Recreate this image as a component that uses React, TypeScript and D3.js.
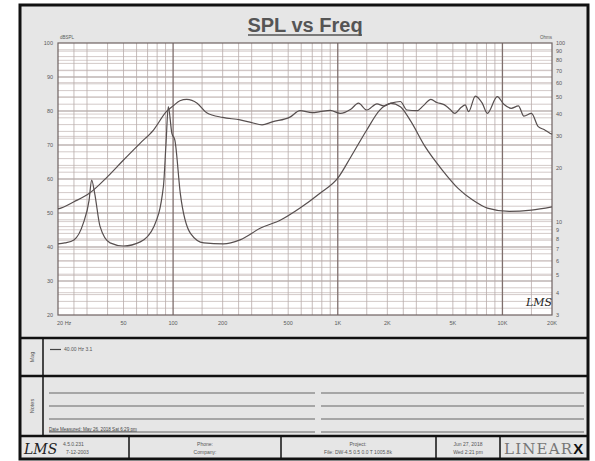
import { useEffect, useRef } from 'react';
import * as d3 from 'd3';

const WIDTH = 595;
const HEIGHT = 461;

// SPL response (left axis, dB)
const splFreq = [20, 21, 25, 31, 40, 50, 63, 76, 91, 100, 110, 121, 140, 160, 200, 255, 300, 347, 400, 512, 590, 700, 780, 900, 1035, 1200, 1335, 1500, 1730, 1900, 2100, 2400, 2630, 3030, 3300, 3680, 4000, 4450, 4800, 5140, 5600, 5940, 6230, 6850, 7540, 8100, 9300, 10200, 11300, 12500, 13500, 15000, 16500, 18000, 19500, 20000];
const splDb = [51.2, 51.5, 53.3, 55.8, 60.7, 65.6, 70.5, 74.4, 79.8, 81.5, 83, 83.4, 82.3, 79.5, 78.1, 77.4, 76.6, 75.9, 76.8, 78.2, 80.1, 79.5, 79.8, 80.2, 79.3, 80.5, 82.3, 80.3, 82.1, 81.5, 82.3, 82.8, 80.3, 80.1, 81.5, 83.4, 82.5, 81.8, 80.5, 79.3, 81, 81.8, 79.8, 84.4, 82.3, 79.3, 84.2, 82, 80.8, 81.5, 78.5, 79.3, 75.4, 74.5, 73.4, 73.2];

// impedance (right axis, ohms)
const impFreq = [20, 22, 25, 28.5, 30.9, 32, 33.4, 36, 41.4, 49.9, 63.2, 76.5, 87.3, 90.5, 93.5, 98.3, 102.5, 110.6, 127.5, 153.8, 202, 255, 340, 450, 590, 780, 1000, 1200, 1500, 1800, 2100, 2400, 2750, 3400, 4300, 5400, 6600, 8100, 11000, 15000, 20000];
const impOhm = [7.5, 7.6, 7.9, 9.8, 13.2, 17.1, 14.4, 9.4, 7.6, 7.3, 7.7, 9.4, 15.7, 27, 44, 31.2, 28.6, 14.4, 8.6, 7.6, 7.5, 7.9, 9.2, 10.2, 11.9, 14.4, 17.5, 23, 32.6, 42.1, 45.9, 44, 37, 26.2, 19.5, 15.3, 13.2, 11.9, 11.4, 11.6, 12.1];

const freqTicks = [20, 50, 100, 200, 500, 1000, 2000, 5000, 10000, 20000];
const freqLabels = ['20 Hz', '50', '100', '200', '500', '1K', '2K', '5K', '10K', '20K'];
const dbTicks = [20, 30, 40, 50, 60, 70, 80, 90, 100];
const ohmTicks = [3, 4, 5, 6, 7, 8, 9, 10, 20, 30, 40, 50, 60, 70, 80, 90, 100];

const FONT = '"Liberation Sans", Arial, sans-serif';

export default function App() {
  const svgRef = useRef<SVGSVGElement>(null);

  useEffect(() => {
    const svg = d3.select(svgRef.current);
    svg.selectAll('*').remove();

    const plot = { left: 58, right: 552, top: 43, bottom: 315 };
    const x = d3.scaleLog().domain([20, 20000]).range([plot.left, plot.right]);
    const yDb = d3.scaleLinear().domain([20, 100]).range([plot.bottom, plot.top]);
    const yOhm = d3.scaleLog().domain([3, 100]).range([plot.bottom, plot.top]);

    // frame background
    svg.append('rect').attr('x', 20).attr('y', 5).attr('width', 568).attr('height', 454).attr('fill', '#e6e6e6');
    svg.append('rect').attr('x', plot.left).attr('y', plot.top)
      .attr('width', plot.right - plot.left).attr('height', plot.bottom - plot.top).attr('fill', '#fff');

    const grid = svg.append('g');

    // vertical grid
    const vLines: { f: number; major: boolean }[] = [];
    [10, 100, 1000, 10000].forEach(d => {
      for (let m = 1; m <= 9; m++) {
        const f = m * d;
        if (f > 20 && f < 20000) vLines.push({ f, major: m === 1 });
      }
      [1.5, 2.5].forEach(m => {
        const f = m * d;
        if (f > 20 && f < 20000) vLines.push({ f, major: false });
      });
    });

    // horizontal grid (ohms + dB)
    grid.selectAll('line.o').data(ohmTicks.slice(1, -1)).enter().append('line')
      .attr('x1', plot.left).attr('x2', plot.right)
      .attr('y1', d => yOhm(d)).attr('y2', d => yOhm(d))
      .attr('stroke', '#cdc2c0').attr('stroke-width', 0.8);
    grid.selectAll('line.h').data(d3.range(22, 100, 2)).enter().append('line')
      .attr('x1', plot.left).attr('x2', plot.right)
      .attr('y1', d => yDb(d)).attr('y2', d => yDb(d))
      .attr('stroke', d => (d % 10 === 0 ? '#9e8f8e' : '#c7bcba'))
      .attr('stroke-width', d => (d % 10 === 0 ? 1.1 : 0.8));
    grid.selectAll('line.v').data(vLines).enter().append('line')
      .attr('x1', d => x(d.f)).attr('x2', d => x(d.f))
      .attr('y1', plot.top).attr('y2', plot.bottom)
      .attr('stroke', d => (d.major ? '#7f6f6d' : '#b8aba9'))
      .attr('stroke-width', d => (d.major ? 1.3 : 0.8));

    svg.append('rect').attr('x', plot.left).attr('y', plot.top)
      .attr('width', plot.right - plot.left).attr('height', plot.bottom - plot.top)
      .attr('fill', 'none').attr('stroke', '#6e6261').attr('stroke-width', 1.2);

    // curves
    const splLine = d3.line<number>().x((d, i) => x(splFreq[i])).y(d => yDb(d)).curve(d3.curveMonotoneX);
    const impLine = d3.line<number>().x((d, i) => x(impFreq[i])).y(d => yOhm(d)).curve(d3.curveMonotoneX);
    svg.append('path').attr('d', impLine(impOhm)).attr('fill', 'none').attr('stroke', '#574f4f').attr('stroke-width', 1.2);
    svg.append('path').attr('d', splLine(splDb)).attr('fill', 'none').attr('stroke', '#574f4f').attr('stroke-width', 1.2);

    // axis labels
    const lab = svg.append('g').attr('font-family', FONT).attr('font-size', 5.5).attr('fill', '#5a5a5a');
    lab.selectAll('text.db').data(dbTicks).enter().append('text')
      .attr('x', 53).attr('y', d => yDb(d) + 2).attr('text-anchor', 'end').text(d => d);
    lab.selectAll('text.oh').data(ohmTicks).enter().append('text')
      .attr('x', 556).attr('y', d => yOhm(d) + 2).attr('text-anchor', 'start').text(d => d);
    lab.selectAll('text.f').data(freqTicks).enter().append('text')
      .attr('x', (d, i) => (i === 0 ? x(d) - 1 : x(d)))
      .attr('y', 325)
      .attr('text-anchor', (d, i) => (i === 0 ? 'start' : 'middle'))
      .text((d, i) => freqLabels[i]);
    lab.append('text').attr('x', 60).attr('y', 39).attr('font-size', 4.5).text('dBSPL');
    lab.append('text').attr('x', 552).attr('y', 39).attr('font-size', 4.5).attr('text-anchor', 'end').text('Ohms');

    // title
    svg.append('text').attr('x', 305).attr('y', 32).attr('text-anchor', 'middle')
      .attr('font-family', FONT).attr('font-weight', 'bold').attr('font-size', 20).attr('fill', '#555')
      .text('SPL vs Freq');
    svg.append('line').attr('x1', 248).attr('x2', 362).attr('y1', 35).attr('y2', 35)
      .attr('stroke', '#555').attr('stroke-width', 1.6);

    // signature in plot
    svg.append('text').attr('x', 526).attr('y', 306).attr('font-family', '"DejaVu Serif", serif')
      .attr('font-style', 'italic').attr('font-size', 11).attr('fill', '#222').text('LMS');

    // lower panels
    const lines = svg.append('g').attr('stroke', '#111');
    [338, 376, 436].forEach(yy => {
      lines.append('line').attr('x1', 20).attr('x2', 588).attr('y1', yy).attr('y2', yy).attr('stroke-width', 2.5);
    });
    lines.append('line').attr('x1', 43).attr('x2', 43).attr('y1', 338).attr('y2', 436).attr('stroke-width', 1.5);
    [129, 281, 436, 500].forEach(xx => {
      lines.append('line').attr('x1', xx).attr('x2', xx).attr('y1', 436).attr('y2', 459).attr('stroke-width', 1.5);
    });

    const small = svg.append('g').attr('font-family', FONT).attr('fill', '#555');
    small.append('text').attr('transform', 'translate(34,357) rotate(-90)').attr('text-anchor', 'middle')
      .attr('font-size', 5.5).text('Mag');
    small.append('text').attr('transform', 'translate(34,406) rotate(-90)').attr('text-anchor', 'middle')
      .attr('font-size', 5.5).text('Notes');
    svg.append('line').attr('x1', 50).attr('x2', 61).attr('y1', 349.5).attr('y2', 349.5).attr('stroke', '#444').attr('stroke-width', 1.2);
    small.append('text').attr('x', 64).attr('y', 351).attr('font-size', 5).text('40.00 Hz   3.1');

    // notes lines
    const noteRows = [393, 406, 419, 432];
    noteRows.forEach(yy => {
      svg.append('line').attr('x1', 49).attr('x2', 315).attr('y1', yy).attr('y2', yy).attr('stroke', '#666').attr('stroke-width', 1.1);
      svg.append('line').attr('x1', 321).attr('x2', 584).attr('y1', yy).attr('y2', yy).attr('stroke', '#666').attr('stroke-width', 1.1);
    });
    small.append('text').attr('x', 49).attr('y', 430.5).attr('font-size', 4.6).attr('fill', '#444')
      .attr('text-decoration', 'underline').text('Date Measured: May 26, 2018  Sat  6:29 pm');

    // footer
    svg.append('text').attr('x', 24).attr('y', 454).attr('font-family', '"DejaVu Serif", serif')
      .attr('font-style', 'italic').attr('font-size', 14).attr('fill', '#222').text('LMS');
    small.append('text').attr('x', 63).attr('y', 446).attr('font-size', 5).text('4.5.0.231');
    small.append('text').attr('x', 66).attr('y', 454).attr('font-size', 5).text('7-12-2003');
    small.append('text').attr('x', 205).attr('y', 446).attr('text-anchor', 'middle').attr('font-size', 5).text('Phone:');
    small.append('text').attr('x', 205).attr('y', 454).attr('text-anchor', 'middle').attr('font-size', 5).text('Company:');
    small.append('text').attr('x', 358).attr('y', 446).attr('text-anchor', 'middle').attr('font-size', 5).text('Project:');
    small.append('text').attr('x', 358).attr('y', 454).attr('text-anchor', 'middle').attr('font-size', 5).text('File: DW-4.5 0.5 0.0 T  1005.8k');
    small.append('text').attr('x', 468).attr('y', 446).attr('text-anchor', 'middle').attr('font-size', 5).text('Jun 27, 2018');
    small.append('text').attr('x', 468).attr('y', 454).attr('text-anchor', 'middle').attr('font-size', 5).text('Wed  2:21 pm');

    const brand = svg.append('text').attr('x', 504).attr('y', 454).attr('font-family', '"DejaVu Serif", serif')
      .attr('font-size', 15).attr('fill', '#777').attr('letter-spacing', 1.2);
    brand.append('tspan').attr('font-weight', 300).text('LINEAR');
    brand.append('tspan').attr('font-family', FONT).attr('font-weight', 'bold').attr('fill', '#111').text('X');

    // outer frame
    svg.append('rect').attr('x', 20).attr('y', 5).attr('width', 568).attr('height', 454)
      .attr('fill', 'none').attr('stroke', '#111').attr('stroke-width', 3);
  }, []);

  return (
    <svg
      ref={svgRef}
      width={WIDTH}
      height={HEIGHT}
      style={{ position: 'absolute', left: 0, top: 0, background: '#fff' }}
    />
  );
}
